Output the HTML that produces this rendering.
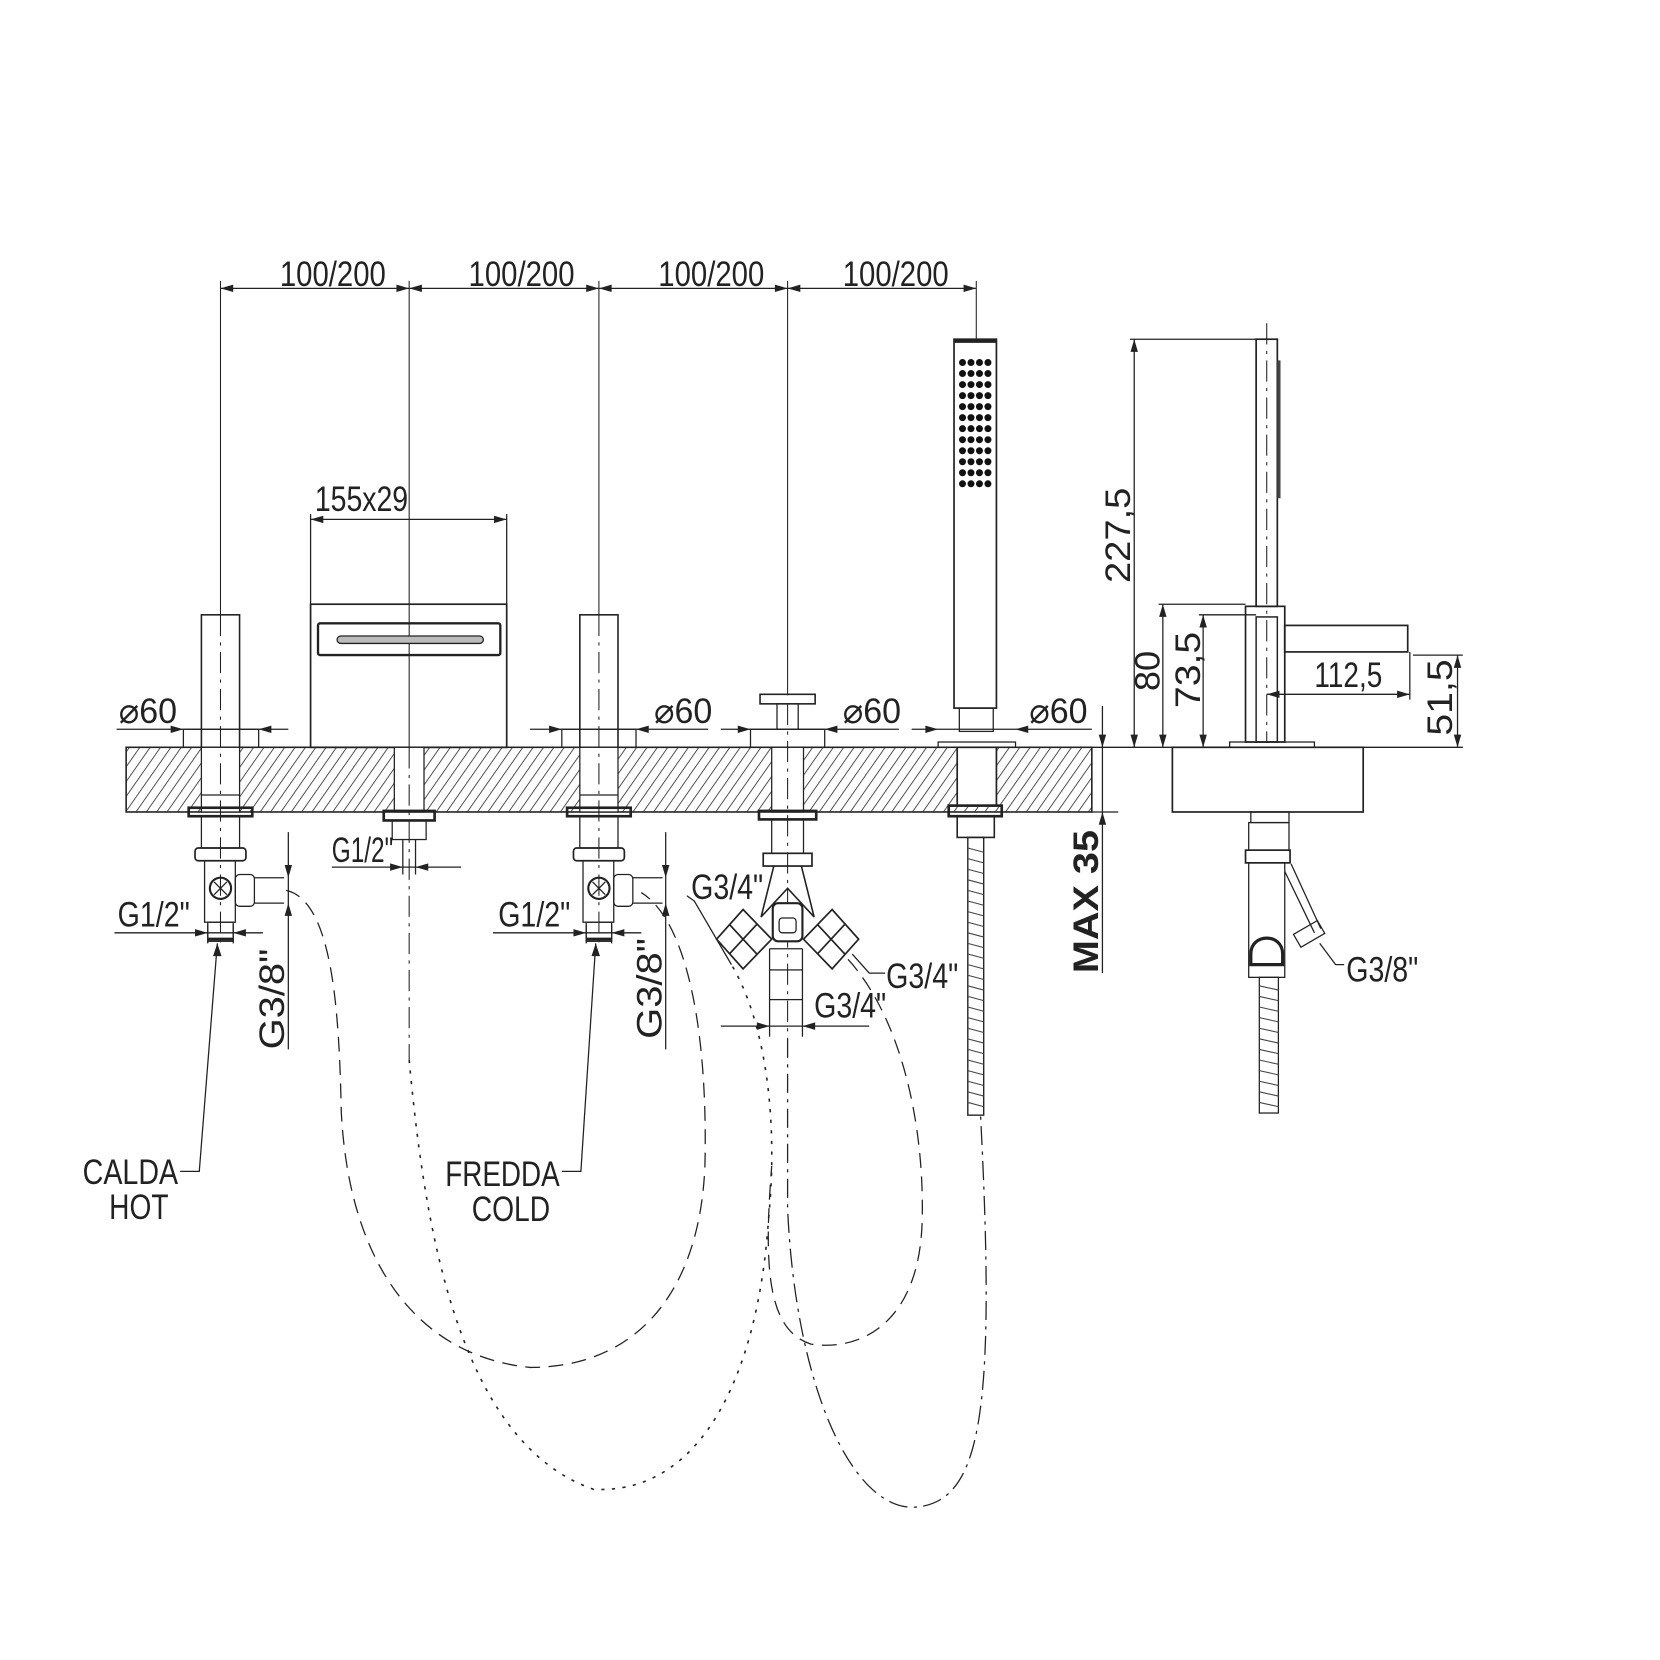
<!DOCTYPE html>
<html><head><meta charset="utf-8"><style>
html,body{margin:0;padding:0;background:#fff}
svg{display:block}
text{font-family:"Liberation Sans",sans-serif;fill:#222}
</style></head><body>
<svg width="1660" height="1660" viewBox="0 0 1566 1566" xmlns="http://www.w3.org/2000/svg">
<defs>
<pattern id="h" patternUnits="userSpaceOnUse" width="8" height="8" patternTransform="rotate(35)">
<line x1="0" y1="0" x2="0" y2="8" stroke="#333" stroke-width="1.6"/>
</pattern>
</defs>
<g stroke="#222" fill="none" stroke-width="1.2">
<!-- top dims -->
<line x1="208" y1="272" x2="921" y2="272"/>
<g stroke-width="1"><line x1="208" y1="265" x2="208" y2="580"/><line x1="386" y1="265" x2="386" y2="705"/><line x1="565" y1="265" x2="565" y2="580"/><line x1="743" y1="265" x2="743" y2="656"/><line x1="921" y1="265" x2="921" y2="320"/></g>
<g fill="#222" stroke="none">
<path d="M208,272 l12,-3.5 v7z M386,272 l-12,-3.5 v7z M386,272 l12,-3.5 v7z M565,272 l-12,-3.5 v7z M565,272 l12,-3.5 v7z M743,272 l-12,-3.5 v7z M743,272 l12,-3.5 v7z M921,272 l-12,-3.5 v7z"/>
<path d="M293,490 l12,-3.5 v7z M478,490 l-12,-3.5 v7z"/>
<path d="M173,688 l-12,-3.5 v7z M244,688 l12,-3.5 v7z M530,688 l-12,-3.5 v7z M600,688 l12,-3.5 v7z M708,688 l-12,-3.5 v7z M778,688 l12,-3.5 v7z M885,688 l-12,-3.5 v7z M958,688 l12,-3.5 v7z"/>
<path d="M196,880 l-12,-3.5 v7z M220,880 l12,-3.5 v7z M553,880 l-12,-3.5 v7z M577,880 l12,-3.5 v7z M380,818 l-12,-3.5 v7z M392,818 l12,-3.5 v7z M726,968 l-12,-3.5 v7z M757,968 l12,-3.5 v7z"/>
<path d="M272,828 l-3.5,-12 h7z M272,852 l-3.5,12 h7z M628,828 l-3.5,-12 h7z M628,852 l-3.5,12 h7z"/>
<path d="M1040,705 l-3.5,-12 h7z M1040,766 l-3.5,12 h7z"/>
<path d="M1070,320 l-3.5,12 h7z M1070,705 l-3.5,-12 h7z M1097,570 l-3.5,12 h7z M1097,705 l-3.5,-12 h7z M1135,580 l-3.5,12 h7z M1135,705 l-3.5,-12 h7z M1375,618 l-3.5,12 h7z M1375,705 l-3.5,-12 h7z M1195,655 l12,-3.5 v7z M1330,655 l-12,-3.5 v7z"/>
<path d="M205,890 l-4,12 h8z M562,890 l-4,12 h8z"/>
</g>
<!-- 155x29 -->
<line x1="293" y1="490" x2="478" y2="490"/>
<line x1="293" y1="485" x2="293" y2="570"/><line x1="478" y1="485" x2="478" y2="570"/>
<!-- spout -->
<rect x="293" y="570" width="185" height="135" stroke-width="1.6"/>
<rect x="300" y="588" width="172" height="30" rx="2" stroke-width="2.2"/>
<rect x="318" y="600" width="138" height="7" rx="3.5" fill="#bbb"/>
<!-- columns -->
<rect x="190" y="580" width="36" height="125" stroke-width="1.5"/>
<rect x="173" y="688" width="71" height="17"/>
<rect x="547" y="580" width="36" height="125" stroke-width="1.5"/>
<rect x="530" y="688" width="70" height="17"/>
<!-- diverter top -->
<rect x="717" y="655" width="52" height="9" stroke-width="1.5"/>
<rect x="733" y="664" width="20" height="24"/>
<rect x="708" y="688" width="70" height="17"/>
<!-- handshower -->
<rect x="900" y="320" width="40" height="348" stroke-width="1.6"/>
<line x1="900" y1="322" x2="940" y2="322" stroke-width="3"/>
<rect x="905" y="668" width="32" height="22"/>
<rect x="885" y="700" width="73" height="5"/>
<!-- slab -->
<rect x="119" y="705" width="911" height="61" fill="url(#h)" stroke-width="1.5"/>
<rect x="190" y="705" width="36" height="61" fill="#fff"/><line x1="190" y1="750" x2="226" y2="750"/>
<rect x="372" y="705" width="28" height="61" fill="#fff"/>
<rect x="547" y="705" width="36" height="61" fill="#fff"/><line x1="547" y1="750" x2="583" y2="750"/>
<rect x="728" y="705" width="30" height="61" fill="#fff"/>
<rect x="903" y="705" width="37" height="55" fill="#fff" stroke-width="1.6"/>
<g stroke-dasharray="20,6,3,6" stroke-width="1"><line x1="208" y1="580" x2="208" y2="890"/><line x1="565" y1="580" x2="565" y2="890"/><line x1="386" y1="705" x2="386" y2="1000"/><line x1="743" y1="664" x2="743" y2="980"/></g>
<g id="v"><rect x="178" y="762" width="60" height="8" stroke-width="2.5"/><rect x="190" y="770" width="36" height="30"/><rect x="184" y="800" width="48" height="12" rx="3" stroke-width="1.6"/><rect x="193" y="812" width="29" height="58"/><circle cx="208" cy="838" r="10" stroke-width="2"/><path d="M202,832 L214,844 M214,832 L202,844"/><rect x="222" y="825" width="18" height="30" rx="4"/><line x1="240" y1="828" x2="268" y2="828"/><line x1="240" y1="852" x2="268" y2="852"/><rect x="196" y="870" width="24" height="18"/><line x1="196" y1="886" x2="220" y2="886" stroke-width="3"/></g>
<use href="#v" x="357"/>
<rect x="362" y="765" width="48" height="9" stroke-width="2.5"/><rect x="370" y="774" width="32" height="18"/>
<line x1="313" y1="818" x2="435" y2="818"/><line x1="380" y1="792" x2="380" y2="825"/><line x1="392" y1="792" x2="392" y2="825"/>
<!-- diverter under -->
<rect x="716" y="765" width="54" height="8" stroke-width="2.5"/><rect x="728" y="773" width="30" height="32"/><rect x="720" y="805" width="46" height="12" stroke-width="1.6"/>
<path d="M730,817 L718,865 L743,838 L768,865 L756,817" stroke-width="1.5"/>
<path d="M676,886 L701,858 L728,886 L701,914z M688,872 L714,900 M714,872 L688,900" stroke-width="1.6" fill="#fff"/>
<path d="M758,886 L785,858 L810,886 L785,914z M771,872 L797,900 M797,872 L771,900" stroke-width="1.6" fill="#fff"/>
<rect x="729" y="852" width="28" height="36" rx="5" stroke-width="2" fill="#fff"/><rect x="735" y="866" width="16" height="14" rx="3"/>
<rect x="726" y="915" width="31" height="28"/><line x1="726" y1="895" x2="757" y2="895"/><line x1="726" y1="895" x2="726" y2="915"/><line x1="757" y1="895" x2="757" y2="915"/>
<line x1="726" y1="943" x2="726" y2="978"/><line x1="757" y1="943" x2="757" y2="978"/>
<line x1="680" y1="968" x2="820" y2="968"/>
<rect x="895" y="760" width="50" height="10" stroke-width="2.5"/><rect x="903" y="770" width="35" height="20" stroke-width="1.5"/>
<rect x="913" y="790" width="15" height="262" stroke-width="1.3"/>
<line x1="110" y1="688" x2="272" y2="688"/><line x1="500" y1="688" x2="668" y2="688"/><line x1="680" y1="688" x2="848" y2="688"/><line x1="860" y1="688" x2="1030" y2="688"/>
<line x1="108" y1="880" x2="248" y2="880"/><line x1="196" y1="872" x2="196" y2="890"/><line x1="220" y1="872" x2="220" y2="890"/>
<line x1="465" y1="880" x2="605" y2="880"/><line x1="553" y1="872" x2="553" y2="890"/><line x1="577" y1="872" x2="577" y2="890"/>
<line x1="272" y1="785" x2="272" y2="990"/><line x1="628" y1="785" x2="628" y2="990"/>
<polyline points="205,890 188,1105 170,1105"/><polyline points="562,890 548,1105 530,1105"/>
<polyline points="690,910 655,850 648,845"/><polyline points="804,900 820,918 835,918"/>
<line x1="1040" y1="666" x2="1040" y2="918"/><line x1="1030" y1="705" x2="1070" y2="705"/><line x1="1030" y1="766" x2="1055" y2="766"/>
<!-- right view -->
<line x1="1070" y1="320" x2="1070" y2="705"/><line x1="1066" y1="320" x2="1185" y2="320"/>
<rect x="1185" y="320" width="20" height="252" stroke-width="1.6"/>
<line x1="1195" y1="305" x2="1195" y2="700" stroke-dasharray="20,6,3,6" stroke-width="1"/>
<rect x="1175" y="572" width="37" height="128" stroke-width="1.6"/>
<rect x="1185" y="582" width="20" height="118" stroke-width="1.4"/>
<rect x="1212" y="590" width="116" height="25" stroke-width="1.6"/>
<line x1="1097" y1="570" x2="1097" y2="705"/><line x1="1093" y1="570" x2="1175" y2="570"/>
<line x1="1135" y1="580" x2="1135" y2="705"/><line x1="1131" y1="580" x2="1185" y2="580"/>
<line x1="1195" y1="655" x2="1330" y2="655"/><line x1="1330" y1="615" x2="1330" y2="660"/>
<line x1="1375" y1="618" x2="1375" y2="705"/><line x1="1333" y1="618" x2="1380" y2="618"/>
<line x1="1068" y1="705" x2="1380" y2="705"/>
<rect x="1106" y="705" width="180" height="61" stroke-width="1.6"/>
<rect x="1160" y="700" width="80" height="5"/>
<rect x="1180" y="766" width="36" height="10"/><rect x="1178" y="776" width="38" height="26"/><rect x="1175" y="802" width="42" height="12" stroke-width="1.6"/>
<rect x="1178" y="814" width="34" height="108"/>
<path d="M1180,900 C1180,880 1210,880 1210,900 L1210,910 L1180,910z" stroke-width="3"/>
<path d="M1212,822 L1240,880 M1218,815 L1246,876"/><rect x="1222" y="874" width="26" height="14" transform="rotate(-30 1235 881)"/>
<polyline points="1245,890 1260,910 1268,910"/>
<rect x="1188" y="922" width="18" height="128"/>
<!-- hoses -->
<path d="M270,840 C315,850 320,960 322,1050 C330,1200 400,1280 500,1290 C600,1290 660,1220 665,1100 C668,980 650,870 605,842" stroke-dasharray="14,8"/>
<path d="M386,1000 C400,1150 430,1360 560,1405 C660,1410 715,1300 725,1150 C735,1050 720,960 690,910" stroke-dasharray="3,7" stroke-width="1.5"/>
<path d="M800,905 C850,960 872,1060 870,1150 C868,1250 810,1275 765,1268 C725,1255 720,1200 728,1100" stroke-dasharray="14,8"/>
<path d="M743,980 L743,1140 C750,1300 800,1420 860,1422 C925,1420 940,1340 925,1052" stroke-dasharray="18,6,3,6"/>
</g>
<g stroke="#444" stroke-width="1"><path d="M913,800 l15,4 M913,810 l15,4 M913,820 l15,4 M913,830 l15,4 M913,840 l15,4 M913,850 l15,4 M913,860 l15,4 M913,870 l15,4 M913,880 l15,4 M913,890 l15,4 M913,900 l15,4 M913,910 l15,4 M913,920 l15,4 M913,930 l15,4 M913,940 l15,4 M913,950 l15,4 M913,960 l15,4 M913,970 l15,4 M913,980 l15,4 M913,990 l15,4 M913,1000 l15,4 M913,1010 l15,4 M913,1020 l15,4 M913,1030 l15,4 M913,1040 l15,4"/>
<path d="M1188,930 l18,4 M1188,940 l18,4 M1188,950 l18,4 M1188,960 l18,4 M1188,970 l18,4 M1188,980 l18,4 M1188,990 l18,4 M1188,1000 l18,4 M1188,1010 l18,4 M1188,1020 l18,4 M1188,1030 l18,4 M1188,1040 l18,4"/></g>
<g fill="#111">
<g id="row"><circle cx="908" cy="342" r="3.3"/><circle cx="916" cy="342" r="3.3"/><circle cx="924" cy="342" r="3.3"/><circle cx="932" cy="342" r="3.3"/></g>
<use href="#row" y="10.4"/><use href="#row" y="20.8"/><use href="#row" y="31.2"/><use href="#row" y="41.6"/><use href="#row" y="52"/><use href="#row" y="62.4"/><use href="#row" y="72.8"/><use href="#row" y="83.2"/><use href="#row" y="93.6"/><use href="#row" y="104"/><use href="#row" y="114.4"/>
</g>
<g fill="#444"><rect x="1205" y="340" width="3" height="130"/></g>
<g font-size="33">
<text x="264" y="270" textLength="100" lengthAdjust="spacingAndGlyphs">100/200</text>
<text x="442" y="270" textLength="100" lengthAdjust="spacingAndGlyphs">100/200</text>
<text x="621" y="270" textLength="100" lengthAdjust="spacingAndGlyphs">100/200</text>
<text x="795" y="270" textLength="100" lengthAdjust="spacingAndGlyphs">100/200</text>
<text x="297" y="482" textLength="88" lengthAdjust="spacingAndGlyphs">155x29</text>
<text x="112" y="682" textLength="55" lengthAdjust="spacingAndGlyphs">⌀60</text>
<text x="617" y="682" textLength="55" lengthAdjust="spacingAndGlyphs">⌀60</text>
<text x="795" y="682" textLength="55" lengthAdjust="spacingAndGlyphs">⌀60</text>
<text x="971" y="682" textLength="55" lengthAdjust="spacingAndGlyphs">⌀60</text>
<text x="111" y="874" textLength="68" lengthAdjust="spacingAndGlyphs">G1/2"</text>
<text x="470" y="874" textLength="68" lengthAdjust="spacingAndGlyphs">G1/2"</text>
<text x="313" y="813" textLength="58" lengthAdjust="spacingAndGlyphs">G1/2"</text>
<text x="652" y="848" textLength="68" lengthAdjust="spacingAndGlyphs">G3/4"</text>
<text x="836" y="932" textLength="68" lengthAdjust="spacingAndGlyphs">G3/4"</text>
<text x="768" y="960" textLength="68" lengthAdjust="spacingAndGlyphs">G3/4"</text>
<text x="1270" y="926" textLength="68" lengthAdjust="spacingAndGlyphs">G3/8"</text>
<text x="1240" y="648" textLength="64" lengthAdjust="spacingAndGlyphs">112,5</text>
<text x="78" y="1117" textLength="90" lengthAdjust="spacingAndGlyphs">CALDA</text>
<text x="103" y="1150" textLength="56" lengthAdjust="spacingAndGlyphs">HOT</text>
<text x="420" y="1119" textLength="108" lengthAdjust="spacingAndGlyphs">FREDDA</text>
<text x="445" y="1152" textLength="74" lengthAdjust="spacingAndGlyphs">COLD</text>
<text transform="translate(268,990) rotate(-90)" textLength="95" lengthAdjust="spacingAndGlyphs">G3/8"</text>
<text transform="translate(624,980) rotate(-90)" textLength="95" lengthAdjust="spacingAndGlyphs">G3/8"</text>
<text transform="translate(1066,550) rotate(-90)" textLength="90" lengthAdjust="spacingAndGlyphs">227,5</text>
<text transform="translate(1094,652) rotate(-90)" textLength="38" lengthAdjust="spacingAndGlyphs">80</text>
<text transform="translate(1132,668) rotate(-90)" textLength="72" lengthAdjust="spacingAndGlyphs">73,5</text>
<text transform="translate(1370,694) rotate(-90)" textLength="72" lengthAdjust="spacingAndGlyphs">51,5</text>
<text transform="translate(1036,918) rotate(-90)" textLength="135" lengthAdjust="spacingAndGlyphs" font-weight="bold">MAX 35</text>
</g>
</svg>
</body></html>
